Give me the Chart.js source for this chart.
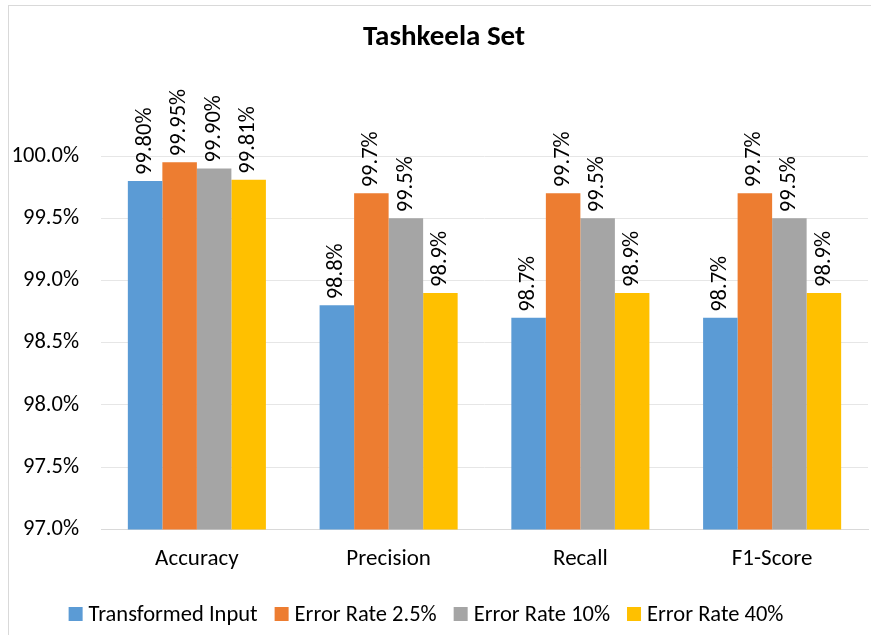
<!DOCTYPE html>
<html>
<head>
<meta charset="utf-8">
<script src="https://cdn.jsdelivr.net/npm/chart.js@4/dist/chart.umd.min.js"></script>
<style>
  html, body { margin: 0; padding: 0; background: #fff; }
  #wrap { position: relative; width: 871px; height: 635px; overflow: hidden; }
  #frame { position: absolute; left: 8px; top: 5px; width: 900px; height: 700px;
           border-top: 1px solid #d9d9d9; border-left: 1px solid #d9d9d9; }
  canvas { position: absolute; left: 0; top: 0; }
</style>
</head>
<body>
<div id="wrap">
  <div id="frame"></div>
  <canvas id="c" width="871" height="635"></canvas>
</div>
<script>
const chartTitle = "Tashkeela Set";
const categories = ["Accuracy", "Precision", "Recall", "F1-Score"];
const seriesNames = ["Transformed Input", "Error Rate 2.5%", "Error Rate 10%", "Error Rate 40%"];
const transformedInput = [99.80, 98.8, 98.7, 98.7];
const errorRate2_5 = [99.95, 99.7, 99.7, 99.7];
const errorRate10 = [99.90, 99.5, 99.5, 99.5];
const errorRate40 = [99.81, 98.9, 98.9, 98.9];
const labelDecimals = [2, 1, 1, 1];
const yTicks = [97.0, 97.5, 98.0, 98.5, 99.0, 99.5, 100.0];
const colors = ["#5B9BD5", "#ED7D31", "#A5A5A5", "#FFC000"];

const FONT = "Carlito, Calibri, Lato, sans-serif";
const seriesData = [transformedInput, errorRate2_5, errorRate10, errorRate40];

const labelPlugin = {
  id: "barLabels",
  afterDatasetsDraw(chart) {
    const ctx = chart.ctx;
    ctx.save();
    ctx.font = "22.5px " + FONT;
    ctx.fillStyle = "#000";
    ctx.textAlign = "left";
    ctx.textBaseline = "middle";
    chart.data.datasets.forEach((ds, di) => {
      const meta = chart.getDatasetMeta(di);
      meta.data.forEach((bar, i) => {
        const txt = ds.data[i].toFixed(labelDecimals[i]) + "%";
        ctx.save();
        ctx.translate(bar.x, bar.y - 6);
        ctx.rotate(-Math.PI / 2);
        ctx.fillText(txt, 0, 0);
        ctx.restore();
      });
    });
    ctx.restore();
  }
};

// Title and legend drawn on the canvas (real text) for exact placement
const decorPlugin = {
  id: "decor",
  afterDraw(chart) {
    const ctx = chart.ctx;
    ctx.save();
    ctx.fillStyle = "#000";
    ctx.font = "bold 29px " + FONT;
    ctx.textAlign = "center";
    ctx.textBaseline = "middle";
    ctx.fillText(chartTitle, 444, 38);

    ctx.font = "22.5px " + FONT;
    ctx.textAlign = "left";
    const box = 14, gap = 6, spacing = 17, cy = 614;
    const items = chart.data.datasets.map(ds => ({
      text: ds.label, color: ds.backgroundColor, w: ctx.measureText(ds.label).width
    }));
    const total = items.reduce((s, it) => s + box + gap + it.w, 0) + spacing * (items.length - 1);
    let x = 426 - total / 2;
    items.forEach(it => {
      ctx.fillStyle = it.color;
      ctx.fillRect(x, cy - box / 2, box, box);
      ctx.fillStyle = "#000";
      ctx.fillText(it.text, x + box + gap, cy + 1);
      x += box + gap + it.w + spacing;
    });
    ctx.restore();
  }
};

new Chart(document.getElementById("c"), {
  type: "bar",
  data: {
    labels: categories,
    datasets: seriesData.map((d, i) => ({
      label: seriesNames[i],
      data: d,
      backgroundColor: colors[i],
      borderWidth: 0,
      categoryPercentage: 0.72,
      barPercentage: 1.0
    }))
  },
  options: {
    responsive: false,
    animation: false,
    layout: { padding: { left: 0, right: 3, top: 156, bottom: 46 } },
    plugins: {
      title: { display: false },
      legend: { display: false },
      tooltip: { enabled: false }
    },
    scales: {
      x: {
        grid: { display: false, drawTicks: false },
        border: { display: true, color: "#d9d9d9" },
        ticks: { color: "#000", font: { family: FONT, size: 23 }, padding: 16 }
      },
      y: {
        min: 97, max: 100,
        afterBuildTicks(scale) { scale.ticks = yTicks.map(v => ({ value: v })); },
        afterFit(scale) { scale.width = 101; },
        grid: { color: "#e6e6e6", drawTicks: false },
        border: { display: false },
        ticks: {
          color: "#000", font: { family: FONT, size: 22.5 }, padding: 22,
          callback: v => Number(v).toFixed(1) + "%"
        }
      }
    }
  },
  plugins: [labelPlugin, decorPlugin]
});
</script>
</body>
</html>
